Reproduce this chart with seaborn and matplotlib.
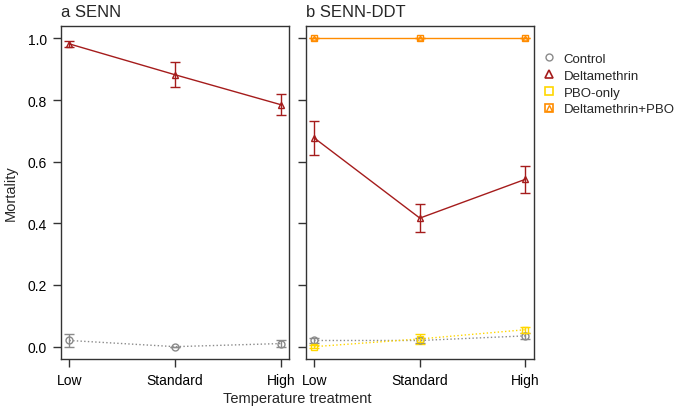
import matplotlib
matplotlib.use("Agg")
import matplotlib.pyplot as plt
import seaborn as sns
import numpy as np
import pandas as pd
from matplotlib.lines import Line2D

# ===== DATA =====
temps = ["Low", "Standard", "High"]

# panel a: SENN
a_control = [0.020, 0.000, 0.010]
a_control_err = [0.020, 0.000, 0.010]
a_delta = [0.982, 0.882, 0.785]
a_delta_err = [0.010, 0.040, 0.033]

# panel b: SENN-DDT
b_control = [0.020, 0.020, 0.035]
b_control_err = [0.008, 0.008, 0.010]
b_delta = [0.677, 0.417, 0.543]
b_delta_err = [0.055, 0.045, 0.044]
b_pbo = [0.000, 0.025, 0.055]
b_pbo_err = [0.004, 0.015, 0.010]
b_deltapbo = [1.000, 1.000, 1.000]
b_deltapbo_err = [0.000, 0.000, 0.000]

# ===== STYLE =====
sns.set_style("ticks")
plt.rcParams["font.family"] = ["Liberation Sans", "DejaVu Sans"]

col_control = "#8a8a8a"
col_delta = "#a51c1c"
col_pbo = "#ffd700"
col_dpbo = "#ff8c00"

fig = plt.figure(figsize=(6.75, 4.1), dpi=100)
ax_a = fig.add_axes([0.0904, 0.122, 0.338, 0.812])
ax_b = fig.add_axes([0.453, 0.122, 0.338, 0.812])

x = np.arange(len(temps))


def draw(ax, vals, errs, color, marker, ls, extra_marker=None):
    df = pd.DataFrame({"x": x, "y": vals})
    ax.errorbar(x, vals, yerr=errs, fmt="none", ecolor=color, elinewidth=1.0,
                capsize=3.5, capthick=1.0, zorder=2)
    sns.lineplot(data=df, x="x", y="y", ax=ax, color=color, linestyle=ls,
                 linewidth=1.0, marker=marker, markersize=5,
                 markerfacecolor="none", markeredgecolor=color,
                 markeredgewidth=1.0, zorder=3)
    if extra_marker:
        sns.lineplot(data=df, x="x", y="y", ax=ax, color=color, linestyle="none",
                     marker=extra_marker, markersize=3.5, markerfacecolor="none",
                     markeredgecolor=color, markeredgewidth=1.0, zorder=4)


draw(ax_a, a_control, a_control_err, col_control, "o", ":")
draw(ax_a, a_delta, a_delta_err, col_delta, "^", "-")

draw(ax_b, b_control, b_control_err, col_control, "o", ":")
draw(ax_b, b_pbo, b_pbo_err, col_pbo, "s", ":")
draw(ax_b, b_delta, b_delta_err, col_delta, "^", "-")
draw(ax_b, b_deltapbo, b_deltapbo_err, col_dpbo, "s", "-", extra_marker="^")

for ax, title in [(ax_a, "a SENN"), (ax_b, "b SENN-DDT")]:
    ax.set_xlim(-0.08, 2.08)
    ax.set_ylim(-0.04, 1.04)
    ax.set_xticks(x)
    ax.set_xticklabels(temps, fontsize=10)
    ax.set_yticks([0.0, 0.2, 0.4, 0.6, 0.8, 1.0])
    ax.set_xlabel("")
    ax.set_ylabel("")
    ax.set_title(title, loc="left", fontsize=12, pad=7)
    for s in ax.spines.values():
        s.set_visible(True)
        s.set_color("#333333")
        s.set_linewidth(1.0)
    ax.tick_params(direction="out", length=6, width=1.0, colors="#333333",
                   labelcolor="black", pad=4)

ax_a.set_yticklabels(["0.0", "0.2", "0.4", "0.6", "0.8", "1.0"], fontsize=10)
ax_b.set_yticklabels([])
ax_a.set_ylabel("Mortality", fontsize=10.5, labelpad=7)
fig.text(0.44, 0.018, "Temperature treatment", ha="center", fontsize=10.5)

# legend
h_control = Line2D([], [], linestyle="none", marker="o", markersize=5,
                   markerfacecolor="none", markeredgecolor=col_control)
h_delta = Line2D([], [], linestyle="none", marker="^", markersize=6,
                 markerfacecolor="none", markeredgecolor=col_delta, markeredgewidth=1.2)
h_pbo = Line2D([], [], linestyle="none", marker="s", markersize=6,
               markerfacecolor="none", markeredgecolor=col_pbo, markeredgewidth=1.2)
h_dpbo1 = Line2D([], [], linestyle="none", marker="s", markersize=6,
                 markerfacecolor="none", markeredgecolor=col_dpbo, markeredgewidth=1.2)
h_dpbo2 = Line2D([], [], linestyle="none", marker="^", markersize=4,
                 markerfacecolor="none", markeredgecolor=col_dpbo)
fig.legend([h_control, h_delta, h_pbo, (h_dpbo1, h_dpbo2)],
           ["Control", "Deltamethrin", "PBO-only", "Deltamethrin+PBO"],
           loc="upper left", bbox_to_anchor=(0.786, 0.898), frameon=False,
           fontsize=9.5, handlelength=1.0, handletextpad=0.6, labelspacing=0.35)

fig.savefig("out.png", dpi=100)
